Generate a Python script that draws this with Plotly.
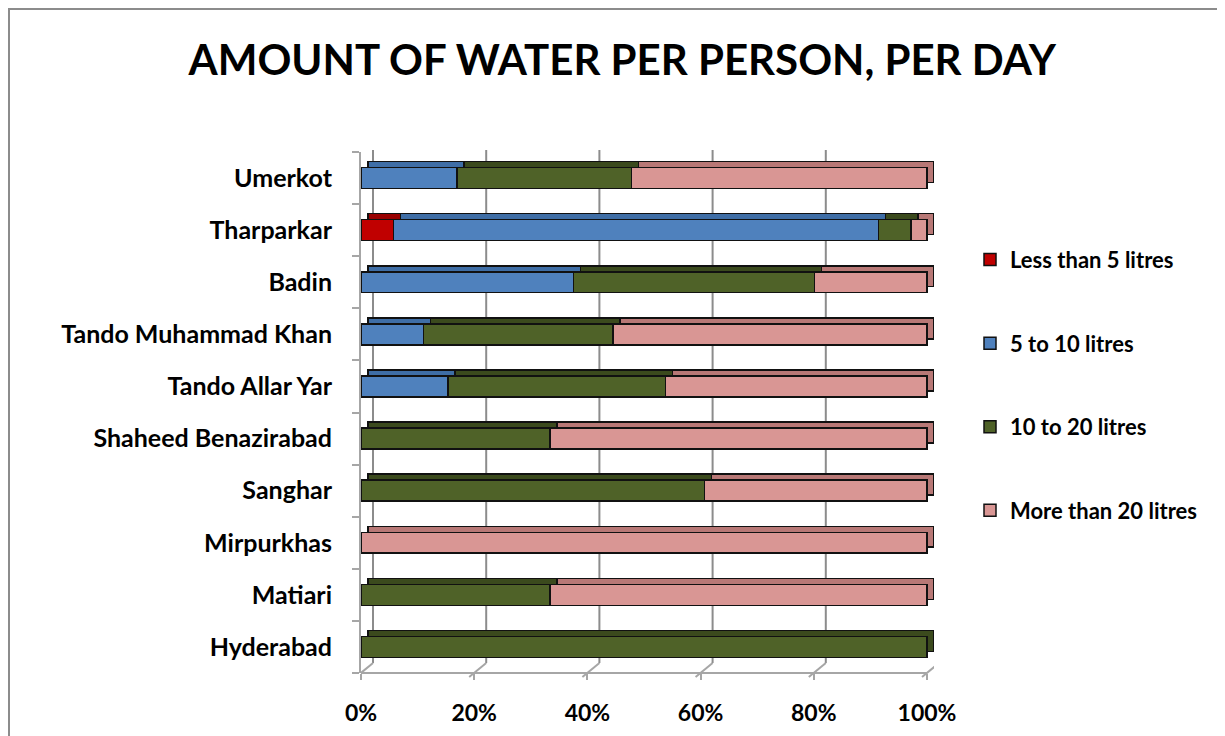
import plotly.graph_objects as go

# districts, bottom to top as drawn on the chart
districts = ["Hyderabad", "Matiari", "Mirpurkhas", "Sanghar", "Shaheed Benazirabad",
             "Tando Allar Yar", "Tando Muhammad Khan", "Badin", "Tharparkar", "Umerkot"]

# share of households, percent
less_than_5 = [0, 0, 0, 0, 0, 0, 0, 0, 5.7, 0]
from_5_to_10 = [0, 0, 0, 0, 0, 15.4, 11.0, 37.5, 85.7, 17.0]
from_10_to_20 = [100, 33.4, 0, 60.7, 33.4, 38.4, 33.5, 42.6, 5.8, 30.8]
more_than_20 = [0, 66.6, 100, 39.3, 66.6, 46.2, 55.5, 19.9, 2.8, 52.2]

series = [
    # name, values, front colour, depth colour
    ("Less than 5 litres", less_than_5, "#C00000", "#990000"),
    ("5 to 10 litres", from_5_to_10, "#4F81BD", "#3F6EA6"),
    ("10 to 20 litres", from_10_to_20, "#4F6228", "#3B4A1D"),
    ("More than 20 litres", more_than_20, "#D99694", "#B87876"),
]

FONT = "Lato"
W, H = 566, 521          # px for 0..100% and plot height
DX, DY = 7, 6            # fake 3d depth in px
PW = W + DX              # plot width incl. depth
N = len(districts)
# page body has an 8px margin, so the figure is nudged up/left
L, T = 353, 144

fig = go.Figure()
# depth (back) bars on the base axes, shifted up/right
for name, vals, color, dark in series:
    fig.add_trace(go.Bar(
        y=districts, x=[v / 100 for v in vals], orientation="h", width=0.4,
        marker=dict(color=dark, line=dict(color="#111111", width=1.5)),
        showlegend=False, hoverinfo="skip", xaxis="x", yaxis="y",
    ))
# front bars on the overlaying axes
for name, vals, color, dark in series:
    fig.add_trace(go.Bar(
        y=districts, x=[v / 100 for v in vals], name=name, orientation="h",
        width=0.4, legendgroup=name, xaxis="x2", yaxis="y2",
        marker=dict(color=color, line=dict(color="#111111", width=1.5)),
        hoverinfo="x+y+name",
    ))

ticks = [0, 0.2, 0.4, 0.6, 0.8, 1.0]
shapes = []
for t in ticks:
    # back wall gridline
    shapes.append(dict(type="line", xref="x", yref="paper", xsizemode="pixel", xanchor=t,
                       x0=5, x1=5, ysizemode="pixel", yanchor=0, y0=10, y1=H + 2,
                       line=dict(color="#8C8C8C", width=2), layer="below"))
    # floor diagonal
    shapes.append(dict(type="line", xref="x", yref="paper", xsizemode="pixel", xanchor=t,
                       x0=-12, x1=5, ysizemode="pixel", yanchor=0, y0=-4, y1=10,
                       line=dict(color="#A6A6A6", width=2), layer="below"))
# front floor edge (x axis line)
shapes.append(dict(type="line", xref="x2", yref="paper", x0=0, x1=1, y0=0, y1=0,
                   line=dict(color="#A6A6A6", width=2)))
# chart border
shapes.append(dict(type="rect", xref="paper", yref="paper",
                   x0=(1 - L) / PW, x1=(1213 - L) / PW, y0=-0.2, y1=(H + T - 1) / H,
                   line=dict(color="#8C8C8C", width=2), fillcolor="rgba(0,0,0,0)", layer="below"))

fig.update_layout(
    width=1225, height=736,
    barmode="stack",
    plot_bgcolor="rgba(0,0,0,0)", paper_bgcolor="white",
    margin=dict(l=L, r=1225 - L - PW, t=T, b=736 - T - H, autoexpand=False),
    font=dict(family=FONT, color="black"),
    title=dict(text="<b>AMOUNT OF WATER PER PERSON, PER DAY</b>", x=0.5015, xanchor="center",
               y=0.929, yanchor="middle", font=dict(size=42, family=FONT, color="black")),
    legend=dict(x=609 / PW, xanchor="left", y=0.8335, yanchor="top", traceorder="grouped",
                tracegroupgap=52, font=dict(size=22, family=FONT, color="black", weight="bold"),
                itemwidth=30),
    showlegend=True,
    shapes=shapes,
    xaxis=dict(range=[-DX / W, PW / W - DX / W], visible=False, fixedrange=True),
    yaxis=dict(range=[-0.5 - DY * N / H, N - 0.5 - DY * N / H], visible=False,
               categoryorder="array", categoryarray=districts),
    xaxis2=dict(overlaying="x", anchor="y2", range=[0, PW / W], tickvals=ticks, tickformat=".0%",
                showgrid=False, zeroline=False, automargin=False, showline=False,
                ticks="outside", ticklen=6, tickcolor="#A6A6A6", tickwidth=2, ticklabelstandoff=13,
                tickfont=dict(size=23, family=FONT, color="black", weight="bold")),
    yaxis2=dict(overlaying="y", anchor="x2", range=[-0.5, N - 0.5], showgrid=False,
                categoryorder="array", categoryarray=districts, automargin=False,
                showline=True, linecolor="#A6A6A6", linewidth=2,
                ticks="outside", ticklen=7, tickcolor="#A6A6A6", tickwidth=2,
                tickson="boundaries", ticklabelstandoff=22,
                tickfont=dict(size=25, family=FONT, color="black", weight="bold")),
)

fig.write_html("out.html")
